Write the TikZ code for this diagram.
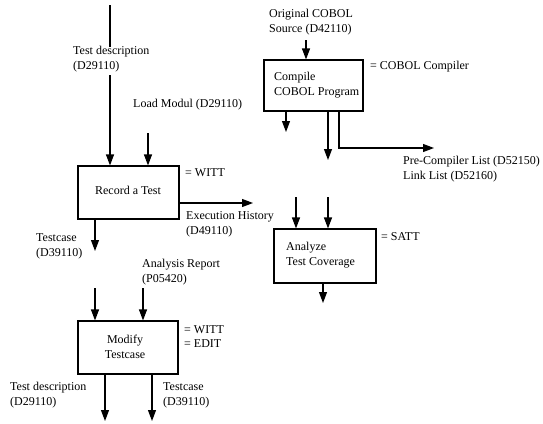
\documentclass[tikz,border=0pt]{standalone}
\usepackage{fontspec}
\setmainfont{Liberation Serif}
\usetikzlibrary{arrows.meta}
\begin{document}
\begin{tikzpicture}[x=1pt,y=-1pt,
  every node/.style={font=\fontsize{12}{14.8}\selectfont, inner sep=0pt},
  lbl/.style={anchor=west, align=left},
  box/.style={draw, line width=1.1pt},
  flow/.style={line width=1.1pt, -{Triangle[length=11pt,width=8pt]}},
  plain/.style={line width=1.1pt}]
\useasboundingbox (0,0) rectangle (543,423);
% boxes
\node[box, minimum width=101pt, minimum height=53pt] (rec) at (128.5,192.5) {};
\node (rect) at (128,190) {Record a Test};
\node[box, minimum width=99pt, minimum height=51pt] (comp) at (313.5,85.5) {};
\node[lbl] (compt) at (274,85.5) {Compile\\COBOL Program};
\node[box, minimum width=102pt, minimum height=54pt] (ana) at (325,256) {};
\node[lbl] (anat) at (286,255.5) {Analyze\\Test Coverage};
\node[box, minimum width=100pt, minimum height=53pt] (mod) at (128,347.5) {};
\node[align=center] (modt) at (125,347) {Modify\\Testcase};
% labels
\node[lbl] (l1) at (73,59.5) {Test description\\(D29110)};
\node[lbl] (l2) at (133,105) {Load Modul (D29110)};
\node[lbl] (l3) at (185,173) {= WITT};
\node[lbl] (l4) at (186,224) {Execution History\\(D49110)};
\node[lbl] (l5) at (36,246) {Testcase\\(D39110)};
\node[lbl] (l6) at (142,272) {Analysis Report\\(P05420)};
\node[lbl] (l7) at (184,336.5) {= WITT\\= EDIT};
\node[lbl] (l8) at (10,395) {Test description\\(D29110)};
\node[lbl] (l9) at (163,395) {Testcase\\(D39110)};
\node[lbl] (l10) at (269,22) {Original COBOL\\Source (D42110)};
\node[lbl] (l11) at (370,67) {= COBOL Compiler};
\node[lbl] (l12) at (403,169.5) {Pre-Compiler List (D52150)\\Link List (D52160)};
\node[lbl] (l13) at (381,237) {= SATT};
% coordinates
\coordinate (a0) at (110,5);
\coordinate (a1) at (110,47);
\coordinate (a2) at (110,75);
\coordinate (b1) at (148,133);
\coordinate (c1) at (253,203);
\coordinate (d1) at (95,251);
\coordinate (e1) at (95,288);
\coordinate (e2) at (143,288);
\coordinate (f1) at (105,421);
\coordinate (f2) at (152,421);
\coordinate (g1) at (306,40);
\coordinate (h1) at (286,132);
\coordinate (h2) at (328,160);
\coordinate (h3) at (339,148);
\coordinate (h4) at (434,148);
\coordinate (i1) at (296,197);
\coordinate (i2) at (328,197);
\coordinate (j1) at (323,303);
% connectors
\draw[plain] (a0) -- (a1);
\draw[flow] (a2) -- (a2 |- rec.north);
\draw[flow] (b1) -- (b1 |- rec.north);
\draw[flow] (rec.east |- c1) -- (c1);
\draw[flow] (d1 |- rec.south) -- (d1);
\draw[flow] (e1) -- (e1 |- mod.north);
\draw[flow] (e2) -- (e2 |- mod.north);
\draw[flow] (f1 |- mod.south) -- (f1);
\draw[flow] (f2 |- mod.south) -- (f2);
\draw[flow] (g1) -- (g1 |- comp.north);
\draw[flow] (h1 |- comp.south) -- (h1);
\draw[flow] (h2 |- comp.south) -- (h2);
\draw[flow] (h3 |- comp.south) -- (h3) -- (h4);
\draw[flow] (i1) -- (i1 |- ana.north);
\draw[flow] (i2) -- (i2 |- ana.north);
\draw[flow] (j1 |- ana.south) -- (j1);
\end{tikzpicture}
\end{document}
